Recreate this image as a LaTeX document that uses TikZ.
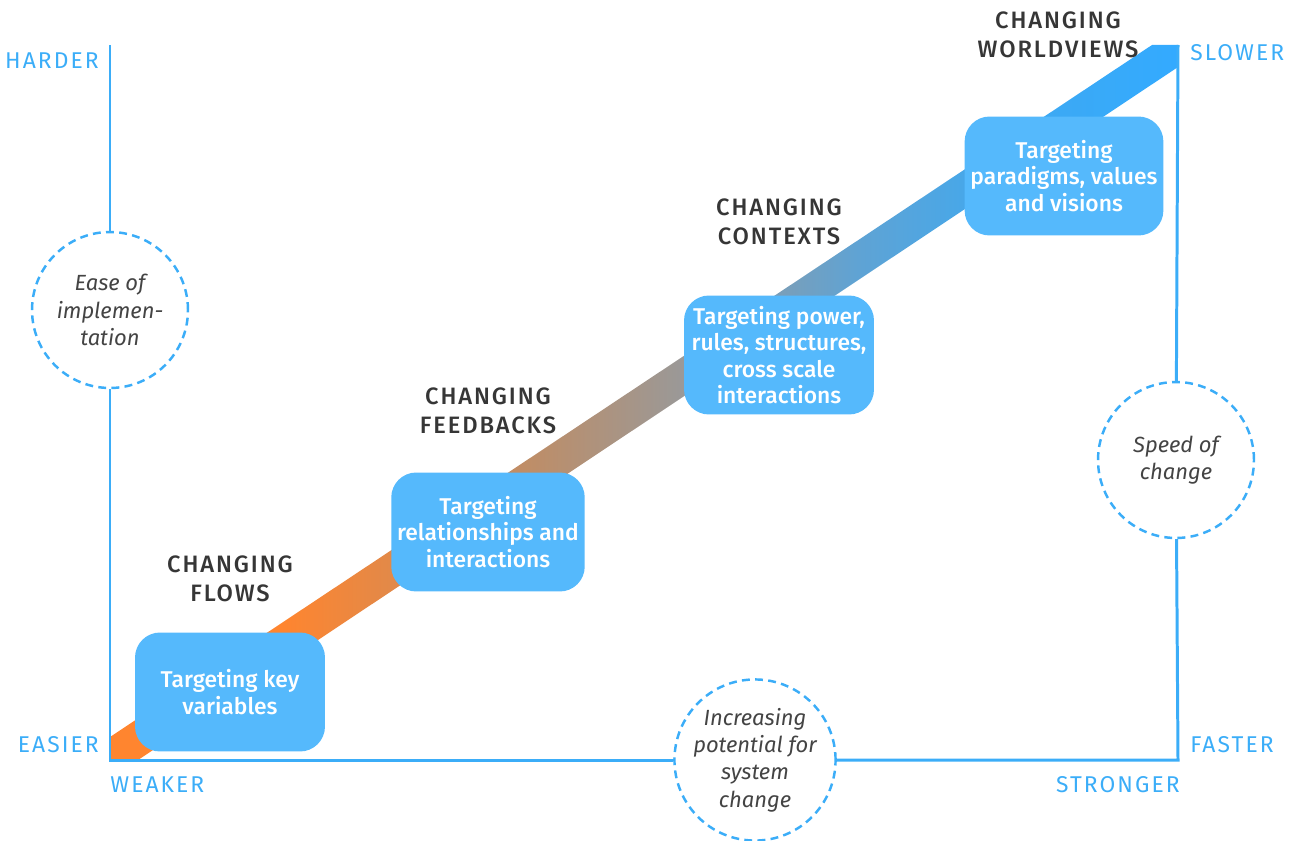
\documentclass[tikz,border=0pt]{standalone}
\usepackage{fontspec}
\setmainfont{Fira Sans}
\newfontfamily\spacedfont[LetterSpace=9]{Fira Sans}
\newfontfamily\headfont[LetterSpace=8]{Fira Sans Medium}
\newfontfamily\boxfont{Fira Sans Medium}
\usetikzlibrary{positioning}
\definecolor{axisblue}{HTML}{3BADF8}
\definecolor{boxblue}{HTML}{55B9FC}
\definecolor{bandorange}{HTML}{FF852F}
\definecolor{bandblue}{HTML}{33AAFF}
\definecolor{headgray}{HTML}{363636}
\definecolor{notegray}{HTML}{444444}
\pgfdeclarehorizontalshading{bandshade}{100bp}{%
  color(0bp)=(bandorange); color(25bp)=(bandorange); color(33bp)=(bandorange);
  color(45bp)=(rgb,255:red,188;green,142;blue,106);
  color(52bp)=(rgb,255:red,153;green,153;blue,153);
  color(60bp)=(rgb,255:red,95;green,163;blue,212);
  color(67bp)=(rgb,255:red,63;green,169;blue,240);
  color(75bp)=(bandblue); color(100bp)=(bandblue)}
\begin{document}
\begin{tikzpicture}[x=0.02cm,y=-0.02cm,
            axis/.style={draw=axisblue,line width=1.7pt},
            note/.style={circle,draw=axisblue,fill=white,dashed,line width=1.4pt,
              dash pattern=on 4.5pt off 3pt,minimum size=3.12cm,inner sep=0pt,
              align=center,text=notegray,font=\itshape\fontsize{12.5}{15.5}\selectfont},
            target/.style={rounded corners=0.5cm,fill=boxblue,text=white,
              minimum width=3.8cm,minimum height=2.38cm,align=center,
              font=\boxfont\fontsize{13}{15}\selectfont},
            change/.style={align=center,text=headgray,
              font=\headfont\fontsize{13.5}{16.5}\selectfont},
            scale label/.style={text=axisblue,inner sep=0pt,
              font=\spacedfont\fontsize{13}{15}\selectfont}]
            \useasboundingbox (0,0) rectangle (1291,841);
            % the band
            \shade[shading=bandshade] (110,737) -- (1152,45) -- (1178,45)
              -- (1178,67) -- (138,760) -- (110,760) -- cycle;
            % axes and their notes
            \coordinate (top left) at (110,45);
            \coordinate (origin) at (110,760);
            \coordinate (bottom right) at (1178,760);
            \coordinate (top right) at (1178,45);
            \node[note] (ease) at (110,310) {Ease of\\implemen-\\tation};
            \node[note] (potential) at (755,760) {Increasing\\potential for\\system\\change};
            \node[note] (speed) at (1176,460) {Speed of\\change};
            \draw[axis] (top left) -- (ease);
            \draw[axis] (ease) -- (origin) -- (potential);
            \draw[axis] (potential) -- (bottom right) -- (speed);
            \draw[axis] (speed) -- (top right);
            % scale labels
            \node[scale label,anchor=east] (harder) at (99,61) {HARDER};
            \node[scale label,anchor=east] (easier) at (99,745) {EASIER};
            \node[scale label,anchor=west] (weaker) at (110,785) {WEAKER};
            \node[scale label,anchor=east] (stronger) at (1180,785) {STRONGER};
            \node[scale label,anchor=west] (slower) at (1190,53) {SLOWER};
            \node[scale label,anchor=west] (faster) at (1190,745) {FASTER};
            % targets
            \node[target] (variables) at (230,692) {Targeting key\\variables};
            \node[target] (relationships) at (488,532) {Targeting\\relationships and\\interactions};
            \node[target] (power) at (779,355) {Targeting power,\\rules, structures,\\cross scale\\interactions};
            \node[target] (paradigms) at (1064,176) {Targeting\\paradigms, values\\and visions};
            % changes
            \node[change] (flows) at (230,579) {CHANGING\\FLOWS};
            \node[change] (feedbacks) at (488,411) {CHANGING\\FEEDBACKS};
            \node[change] (contexts) at (779,222) {CHANGING\\CONTEXTS};
            \node[change] (worldviews) at (1058,35) {CHANGING\\WORLDVIEWS};
        \end{tikzpicture}
\end{document}
